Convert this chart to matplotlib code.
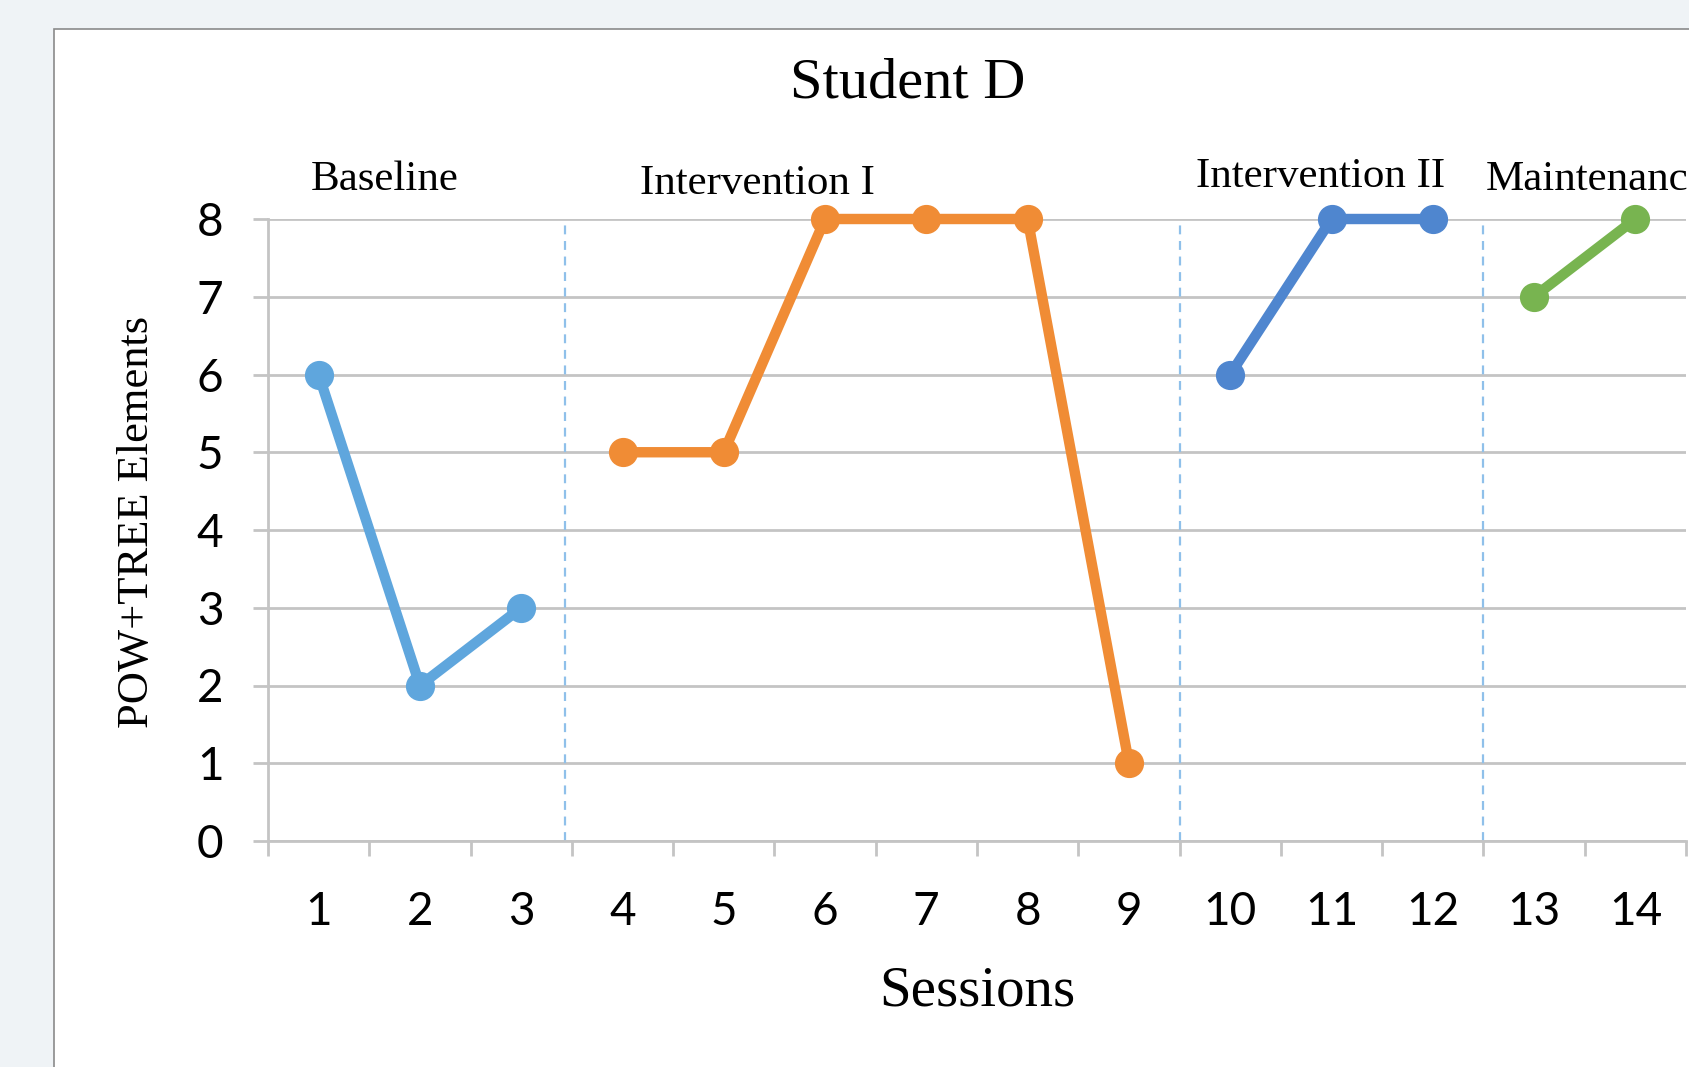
import matplotlib
matplotlib.use('Agg')
import matplotlib.pyplot as plt
import matplotlib.patches as patches
import numpy as np

# data
baseline_x = [1, 2, 3]
baseline_y = [6, 2, 3]
interv1_x = [4, 5, 6, 7, 8, 9]
interv1_y = [5, 5, 8, 8, 8, 1]
interv2_x = [10, 11, 12]
interv2_y = [6, 8, 8]
maint_x = [13, 14]
maint_y = [7, 8]
phase_lines = [3.43, 9.5, 12.5]
sessions = list(range(1, 15))
yticks = list(range(0, 9))

W, H = 1689, 1067
fig = plt.figure(figsize=(W / 100, H / 100), dpi=100, facecolor='#eff3f6')

# white chart panel with thin border (runs off the right and bottom edges)
panel = patches.Rectangle((54 / W, -0.1), 1.0, 1 - 29 / H + 0.1, transform=fig.transFigure,
                          facecolor='white', edgecolor='#8a8a8a', linewidth=1.2, zorder=-5)
fig.patches.append(panel)

ax = fig.add_axes([268 / W, 1 - 841 / H, (1686 - 268) / W, (841 - 219) / H])
ax.set_facecolor('none')

grey = '#c4c4c4'
serif = 'Liberation Serif'
sans = 'Lato'

ax.set_xlim(0.5, 14.5)
ax.set_ylim(0, 8)
ax.set_yticks(yticks)
ax.yaxis.grid(True, color=grey, linewidth=2.0, zorder=1)
ax.set_axisbelow(True)

for side in ['top', 'right']:
    ax.spines[side].set_visible(False)
for side in ['left', 'bottom']:
    ax.spines[side].set_color(grey)
    ax.spines[side].set_linewidth(2.0)

ax.set_xticks(sessions)
ax.set_xticks(np.arange(0.5, 15, 1.0), minor=True)
ax.tick_params(axis='x', which='major', length=0, pad=36, labelsize=33)
ax.tick_params(axis='x', which='minor', length=11, width=2.0, color=grey, direction='out')
ax.tick_params(axis='y', which='major', length=11, width=2.0, color=grey, direction='out',
               pad=21, labelsize=33)
for lab in ax.get_xticklabels() + ax.get_yticklabels():
    lab.set_fontfamily(sans)

# phase change lines
ax.vlines(phase_lines, 0, 8, colors='#8fc0ea', linestyles=(0, (4, 3)), linewidth=1.6, zorder=2)

lw = 7.5
ms = 20
ax.plot(baseline_x, baseline_y, color='#5fa6dd', lw=lw, marker='o', ms=ms, clip_on=False, zorder=3)
ax.plot(interv1_x, interv1_y, color='#f08c35', lw=lw, marker='o', ms=ms, clip_on=False, zorder=3)
ax.plot(interv2_x, interv2_y, color='#4f86cf', lw=lw, marker='o', ms=ms, clip_on=False, zorder=3)
ax.plot(maint_x, maint_y, color='#78b450', lw=lw, marker='o', ms=ms, clip_on=False, zorder=3)

# phase labels
ax.text(1.655, 8.51, 'Baseline', ha='center', va='center', fontsize=31, family=serif, clip_on=False)
ax.text(5.337, 8.45, 'Intervention I', ha='center', va='center', fontsize=31, family=serif, clip_on=False)
ax.text(10.89, 8.54, 'Intervention II', ha='center', va='center', fontsize=31, family=serif, clip_on=False)
ax.text(12.52, 8.51, 'Maintenance', ha='left', va='center', fontsize=31, family=serif, clip_on=False)

fig.text(908 / W, 1 - 83 / H, 'Student D', ha='center', va='center', fontsize=42, family=serif)
fig.text(137 / W, 1 - 522 / H, 'POW+TREE Elements', ha='center', va='center', rotation=90,
         fontsize=32, family=serif)
fig.text(977 / W, 1 - 992 / H, 'Sessions', ha='center', va='center', fontsize=41, family=serif)

plt.savefig('out.png', dpi=100, facecolor=fig.get_facecolor())
plt.close()
